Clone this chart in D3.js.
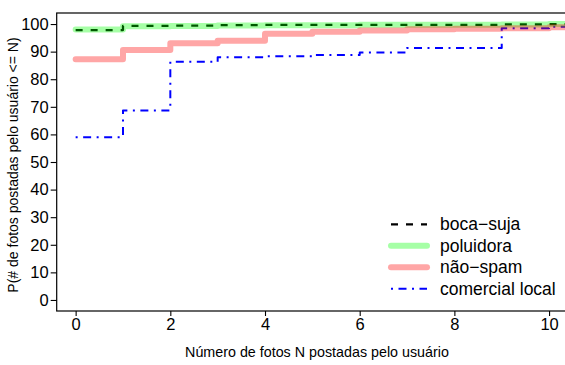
<!DOCTYPE html>
<html>
<head>
<meta charset="utf-8">
<script src="https://cdn.jsdelivr.net/npm/d3@7"></script>
<style>
  body { margin: 0; background: #fff; }
  text { font-family: "Liberation Sans", Arial, sans-serif; fill: #000; }
</style>
</head>
<body>
<svg id="chart" width="565" height="365"></svg>
<script>
// número de fotos (x) e P(# fotos <= N) por classe
const xs = [0, 1, 2, 3, 4, 5, 6, 7, 8, 9, 10, 11];
const bocaSuja = [97.8, 99.3, 99.4, 99.6, 99.7, 99.7, 99.7, 99.7, 99.7, 99.9, 100, 100];
const poluidora = [98.0, 99.2, 99.3, 99.5, 99.6, 99.6, 99.7, 99.7, 99.7, 99.8, 100, 100];
const naoSpam = [87.2, 90.6, 93.0, 93.9, 96.5, 97.2, 97.7, 98.1, 98.3, 98.5, 98.8, 99.0];
const comercialLocal = [59.0, 68.7, 86.3, 88.0, 88.3, 88.8, 89.7, 91.3, 91.3, 98.5, 99.0, 99.2];

const xTicks = [0, 2, 4, 6, 8, 10];
const yTicks = [0, 10, 20, 30, 40, 50, 60, 70, 80, 90, 100];

const series = [
    { name: 'boca\u2212suja', values: bocaSuja, color: '#000', width: 2.3, dash: '7,8', cap: 'butt', order: 0 },
    { name: 'poluidora', values: poluidora, color: 'rgba(0,255,0,0.35)', width: 6, dash: null, cap: 'round', order: 2 },
    { name: 'n\u00e3o\u2212spam', values: naoSpam, color: 'rgba(255,0,0,0.35)', width: 6, dash: null, cap: 'round', order: 3 },
    { name: 'comercial local', values: comercialLocal, color: '#0000ff', width: 2, dash: '2,5.5,8,5.5', cap: 'butt', order: 1 }
];

const svg = d3.select('#chart');

const mLeft = 56.7, mRight = 568, mTop = 13, mBottom = 311;

const x = d3.scaleLinear().domain([-0.4, 10.4]).range([mLeft, mRight]);
const y = d3.scaleLinear().domain([-4, 104]).range([mBottom, mTop]);

svg.append('defs').append('clipPath')
    .attr('id', 'plotclip')
    .append('rect')
    .attr('x', mLeft).attr('y', mTop)
    .attr('width', mRight - mLeft).attr('height', mBottom - mTop);

const line = d3.line()
    .x(d => x(d[0]))
    .y(d => y(d[1]))
    .curve(d3.curveStepAfter);

const plot = svg.append('g').attr('clip-path', 'url(#plotclip)');

series.slice().sort((a, b) => a.order - b.order).forEach(s => {
    plot.append('path')
        .datum(xs.map((v, i) => [v, s.values[i]]))
        .attr('d', line)
        .attr('fill', 'none')
        .attr('stroke', s.color)
        .attr('stroke-width', s.width)
        .attr('stroke-linecap', s.cap)
        .attr('stroke-linejoin', 'round')
        .attr('stroke-dasharray', s.dash);
});

// box (only left, top and bottom are visible)
svg.append('rect')
    .attr('x', mLeft).attr('y', mTop)
    .attr('width', mRight - mLeft).attr('height', mBottom - mTop)
    .attr('fill', 'none')
    .attr('stroke', '#000')
    .attr('stroke-width', 1.2);

// axes
const yAxis = svg.append('g')
    .attr('transform', `translate(${mLeft},0)`)
    .call(d3.axisLeft(y).tickValues(yTicks).tickSize(6).tickPadding(2));

const xAxis = svg.append('g')
    .attr('transform', `translate(0,${mBottom})`)
    .call(d3.axisBottom(x).tickValues(xTicks).tickSize(5).tickPadding(2));

[xAxis, yAxis].forEach(a => {
    a.select('.domain').remove();
    a.selectAll('line').attr('stroke', '#000').attr('stroke-width', 1.1);
    a.selectAll('text')
        .style('font-family', '"Liberation Sans", Arial, sans-serif')
        .style('font-size', '16.5px')
        .attr('fill', '#000');
});

// axis titles
svg.append('text')
    .attr('x', 317)
    .attr('y', 357)
    .attr('text-anchor', 'middle')
    .style('font-size', '14.3px')
    .text('Número de fotos N postadas pelo usuário');

svg.append('text')
    .attr('transform', `translate(18,${(mTop + mBottom) / 2 + 3}) rotate(-90)`)
    .attr('text-anchor', 'middle')
    .style('font-size', '14px')
    .text('P(# de fotos postadas pelo usuário <= N)');

// legend
const legend = svg.append('g');
series.forEach((s, i) => {
    const ly = 224.3 + i * 21.5;
    legend.append('line')
        .attr('x1', 391).attr('x2', 427)
        .attr('y1', ly).attr('y2', ly)
        .attr('stroke', s.color)
        .attr('stroke-width', s.width)
        .attr('stroke-linecap', s.cap)
        .attr('stroke-dasharray', s.dash);
    legend.append('text')
        .attr('x', 440)
        .attr('y', ly + 6)
        .style('font-size', '17.5px')
        .text(s.name);
});
</script>
</body>
</html>
